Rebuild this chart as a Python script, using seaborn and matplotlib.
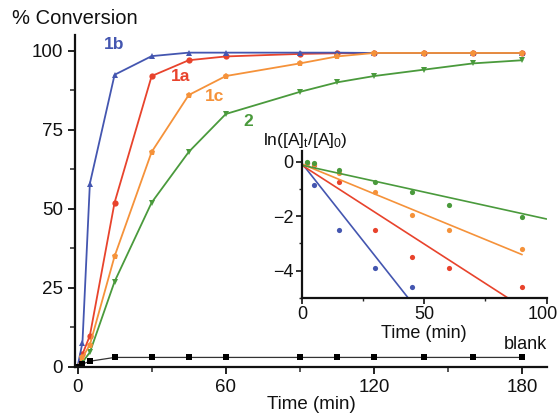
import numpy as np
import matplotlib
matplotlib.use("Agg")
import matplotlib.pyplot as plt
import matplotlib.transforms as mtransforms
from matplotlib.ticker import MultipleLocator
import seaborn as sns

# main plot: % conversion vs time (min)
time = [0, 2, 5, 15, 30, 45, 60, 90, 105, 120, 140, 160, 180]
conv_1b = [0, 7.7, 58, 92.4, 98.3, 99.4, 99.4, 99.4, 99.4, 99.3, 99.3, 99.3, 99.3]
conv_1a = [0, 4, 9.9, 52, 92, 97, 98.2, 99, 99.2, 99.3, 99.3, 99.3, 99.3]
conv_1c = [0, 3, 7, 35, 68, 86, 92, 96, 98.2, 99.3, 99.3, 99.3, 99.3]
conv_2 = [0, 1.5, 4.6, 27, 52, 68, 80, 87, 90, 92, 94, 96, 97]
conv_blank = [0, 0.9, 1.8, 3, 3, 3, 3, 3, 3, 3, 3, 3, 3]

# inset: ln([A]t/[A]0) vs time
kin_time = [2, 5, 15, 30, 45, 60, 90]
ln_1b = [-0.05, -0.85, -2.52, -3.9, -4.6, np.nan, np.nan]
ln_1a = [-0.05, -0.1, -0.73, -2.52, -3.49, -3.9, -4.6]
ln_1c = [-0.03, -0.07, -0.42, -1.12, -1.95, -2.52, -3.2]
ln_2 = [-0.02, -0.05, -0.3, -0.73, -1.12, -1.58, -2.03]
fit_slope = [-0.114, -0.058, -0.037, -0.0198]
fit_icpt = [-0.05, -0.12, -0.08, -0.12]
fit_end = [90, 90, 90, 100]

names = ["1b", "1a", "1c", "2"]
colors = ["#4456b0", "#e8432c", "#f5923a", "#4a9a3c"]

sns.set_style("ticks")
plt.rcParams["font.family"] = ["Liberation Sans", "DejaVu Sans"]
plt.rcParams["mathtext.fontset"] = "custom"
plt.rcParams["mathtext.rm"] = "Liberation Sans"
plt.rcParams["mathtext.it"] = "Liberation Sans:italic"
ink = "#111111"

fig = plt.figure(figsize=(5.6, 4.16), dpi=100)
ax = fig.add_axes([0.134, 0.118, 0.843, 0.798])

series = {"1b": (conv_1b, "^"), "1a": (conv_1a, "o"), "1c": (conv_1c, "p"), "2": (conv_2, "v")}
for key in ["2", "1a", "1b", "1c"]:
    vals, mk = series[key]
    c = colors[names.index(key)]
    sns.lineplot(x=time, y=vals, color=c, marker=mk, markersize=4.5,
                 markeredgewidth=0, linewidth=1.3, ax=ax)
sns.lineplot(x=time, y=conv_blank, color="#333333", marker="s", markersize=4,
             markerfacecolor="black", markeredgewidth=0, linewidth=0.9, ax=ax)

ax.set_xlim(-1, 190)
ax.set_ylim(0, 105)
ax.set_xticks([0, 60, 120, 180])
ax.set_yticks([0, 25, 50, 75, 100])
ax.xaxis.set_minor_locator(MultipleLocator(30))
ax.yaxis.set_minor_locator(MultipleLocator(12.5))
ax.tick_params(which="major", direction="out", length=5, width=1.3, labelsize=13.5, colors=ink)
ax.tick_params(which="minor", direction="out", length=3.5, width=1.1)
sns.despine(ax=ax)
for s in ["left", "bottom"]:
    ax.spines[s].set_linewidth(1.6)
    ax.spines[s].set_color(ink)
ax.set_xlabel("Time (min)", fontsize=13.5, labelpad=0, color=ink)

label_pos = {"1b": (15, 102), "1a": (41.5, 92), "1c": (55.5, 85.5), "2": (69, 77.5)}
for key in names:
    x, y = label_pos[key]
    ax.text(x, y, key, color=colors[names.index(key)], fontsize=12.5, fontweight="bold",
            ha="center", va="center", clip_on=False)
ax.text(190, 7, "blank", fontsize=13, ha="right", va="center", color=ink)

fig.text(12 / 560, 1 - 18 / 416, "% Conversion", fontsize=14.5, ha="left", va="center", color=ink)

# inset
ins = fig.add_axes([0.539, 0.284, 0.437, 0.353])
ins.set_facecolor("white")
lns = [ln_1b, ln_1a, ln_1c, ln_2]
for i, key in enumerate(names):
    c = colors[i]
    sns.scatterplot(x=kin_time, y=lns[i], color=c, s=14, linewidth=0, ax=ins)
    xf = np.array([0, fit_end[i]])
    sns.lineplot(x=xf, y=fit_icpt[i] + fit_slope[i] * xf, color=c, linewidth=1.2, ax=ins)
ins.set_xlim(0, 100)
ins.set_ylim(-5, 0.4)
ins.set_xticks([0, 50, 100])
ins.set_yticks([0, -2, -4])
ins.xaxis.set_minor_locator(MultipleLocator(25))
ins.yaxis.set_minor_locator(MultipleLocator(1))
ins.tick_params(which="major", direction="out", length=4, width=1.2, labelsize=13, pad=2, colors=ink)
ins.tick_params(which="minor", direction="out", length=2.5, width=1)
sns.despine(ax=ins)
for s in ["left", "bottom"]:
    ins.spines[s].set_linewidth(1.6)
    ins.spines[s].set_color(ink)
ins.set_xlabel("Time (min)", fontsize=13, labelpad=1, color=ink)
ins.set_ylabel("")
# keep the last inset tick label inside the canvas
last = ins.get_xticklabels()[-1]
last.set_transform(last.get_transform() + mtransforms.ScaledTranslation(-4 / 100, 0, fig.dpi_scale_trans))
fig.text(263 / 560, 1 - 141 / 416, r"ln([A]$_\mathrm{t}$/[A]$_\mathrm{0}$)", fontsize=12.5,
         ha="left", va="center", color=ink)

fig.savefig("out.png", dpi=100)
